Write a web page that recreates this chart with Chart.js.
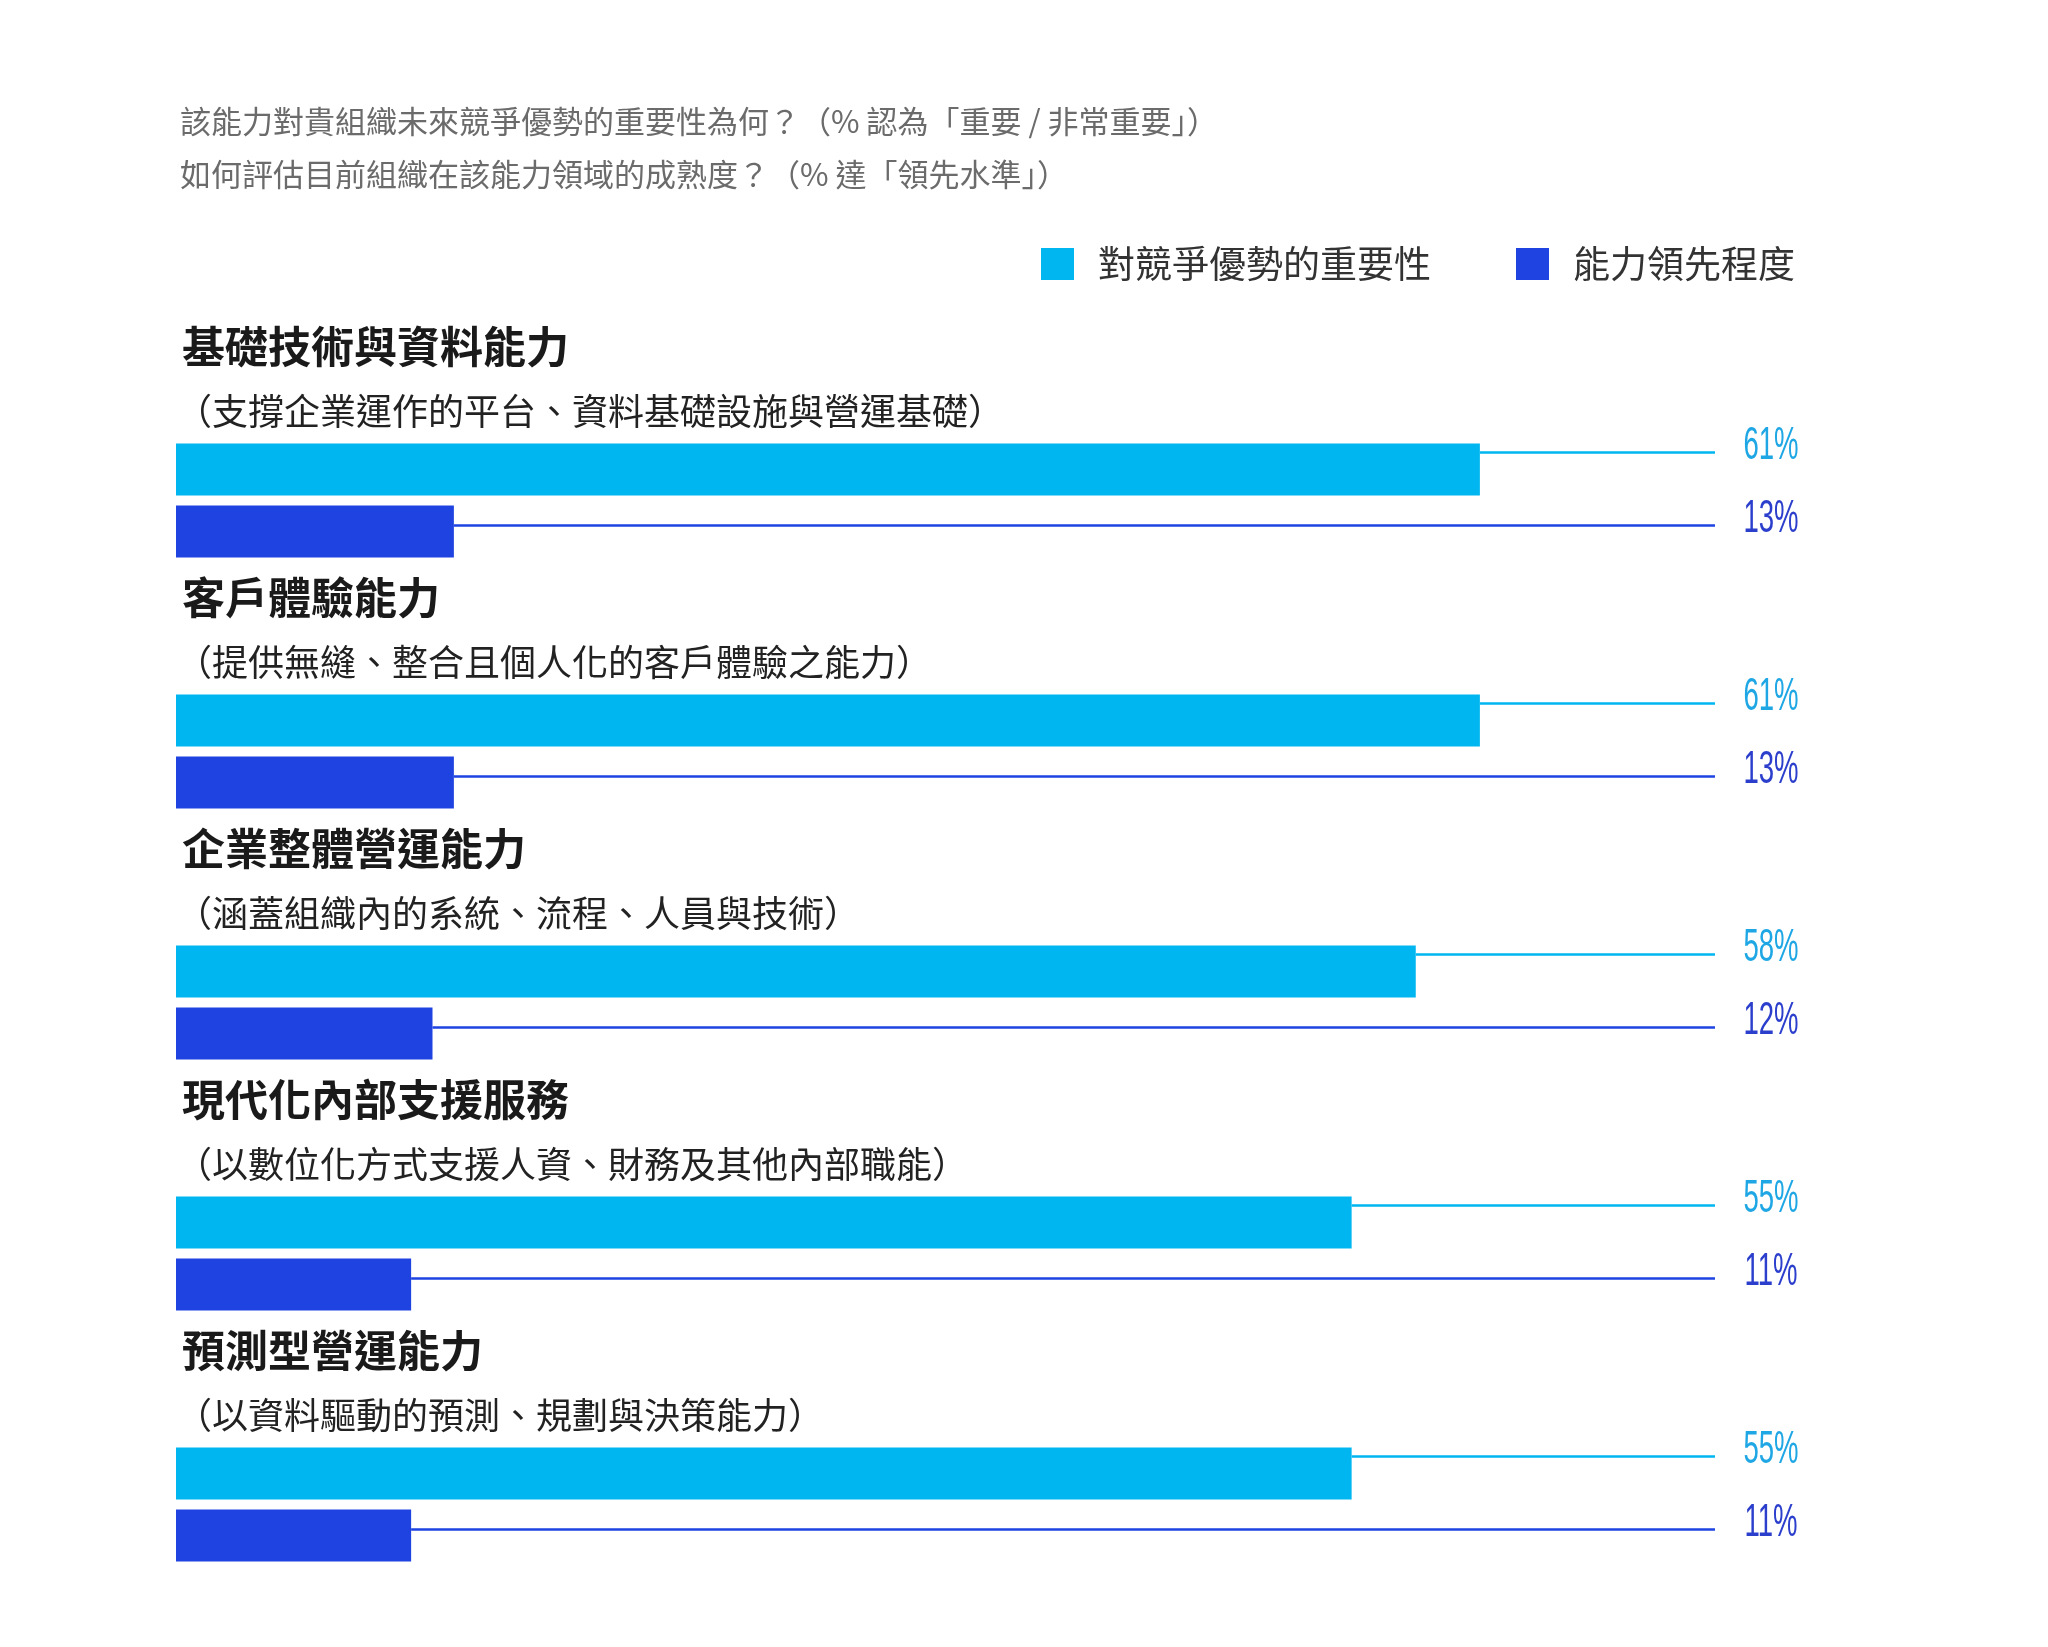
<!DOCTYPE html>
<html>
<head>
<meta charset="utf-8">
<script src="https://cdn.jsdelivr.net/npm/chart.js@4.4.0/dist/chart.umd.min.js"></script>
<style>
  body { margin: 0; background: #fff; }
  canvas { display: block; }
</style>
</head>
<body>
<canvas id="chart" width="2048" height="1647"></canvas>
<script>
// Data
const categories = ['基礎技術與資料能力', '客戶體驗能力', '企業整體營運能力', '現代化內部支援服務', '預測型營運能力'];
const subtitles = [
    '（支撐企業運作的平台、資料基礎設施與營運基礎）',
    '（提供無縫、整合且個人化的客戶體驗之能力）',
    '（涵蓋組織內的系統、流程、人員與技術）',
    '（以數位化方式支援人資、財務及其他內部職能）',
    '（以資料驅動的預測、規劃與決策能力）'
];
const importance = [61, 61, 58, 55, 55];
const leadership = [13, 13, 12, 11, 11];
const seriesNames = ['對競爭優勢的重要性', '能力領先程度'];
const headerLines = [
    '該能力對貴組織未來競爭優勢的重要性為何？（% 認為「重要 / 非常重要」）',
    '如何評估目前組織在該能力領域的成熟度？（% 達「領先水準」）'
];

const CYAN = '#00b6f0';
const BLUE = '#1e43e0';
const CJK = '"Noto Sans CJK TC", "Noto Sans", sans-serif';

// Draws header, legend, group titles, leader lines and value labels
const decorations = {
    id: 'decorations',
    afterDatasetsDraw(chart) {
        const ctx = chart.ctx;
        const area = chart.chartArea;
        ctx.save();

        // header
        ctx.fillStyle = '#6b6b6b';
        ctx.font = '31px ' + CJK;
        ctx.textBaseline = 'middle';
        ctx.fillText(headerLines[0], 180, 121);
        ctx.fillText(headerLines[1], 180, 174);

        // legend
        ctx.font = '37px ' + CJK;
        ctx.fillStyle = CYAN;
        ctx.fillRect(1041, 248, 33, 32);
        ctx.fillStyle = '#333';
        ctx.fillText(seriesNames[0], 1098, 264);
        ctx.fillStyle = BLUE;
        ctx.fillRect(1516, 248, 33, 32);
        ctx.fillStyle = '#333';
        ctx.fillText(seriesNames[1], 1573, 264);

        const colors = [CYAN, BLUE];
        const textColors = ['#1ea7e4', '#2b3fcc'];
        const lineOffsets = [9, 20];
        chart.data.datasets.forEach((ds, di) => {
            const meta = chart.getDatasetMeta(di);
            meta.data.forEach((bar, i) => {
                const top = bar.y - bar.height / 2;
                const ly = top + lineOffsets[di];
                ctx.strokeStyle = colors[di];
                ctx.lineWidth = 2.5;
                ctx.beginPath();
                ctx.moveTo(bar.x, ly);
                ctx.lineTo(area.right, ly);
                ctx.stroke();

                // condensed value label
                ctx.save();
                ctx.translate(1771, ly - 6);
                ctx.scale(0.6, 1);
                ctx.fillStyle = textColors[di];
                ctx.font = '46px "Liberation Sans", sans-serif';
                ctx.textAlign = 'center';
                ctx.textBaseline = 'middle';
                ctx.fillText(ds.data[i] + '%', 0, 0);
                ctx.restore();
            });
        });

        // group titles
        const meta0 = chart.getDatasetMeta(0);
        categories.forEach((name, i) => {
            const top = meta0.data[i].y - meta0.data[i].height / 2;
            ctx.fillStyle = '#1a1a1a';
            ctx.font = 'bold 43px ' + CJK;
            ctx.textAlign = 'left';
            ctx.fillText(name, 182, top - 97);
            ctx.fillStyle = '#222';
            ctx.font = '36px ' + CJK;
            ctx.fillText(subtitles[i], 176, top - 32);
        });
        ctx.restore();
    }
};

new Chart(document.getElementById('chart'), {
    type: 'bar',
    data: {
        labels: categories,
        datasets: [
            { label: seriesNames[0], data: importance, backgroundColor: CYAN },
            { label: seriesNames[1], data: leadership, backgroundColor: BLUE }
        ]
    },
    options: {
        indexAxis: 'y',
        responsive: false,
        animation: false,
        devicePixelRatio: 1,
        categoryPercentage: 0.494,
        barPercentage: 0.84,
        layout: { padding: { top: 375, bottom: 17, left: 176, right: 333 } },
        scales: {
            x: { display: false, min: 0, max: 72 },
            y: { display: false }
        },
        plugins: {
            legend: { display: false },
            tooltip: { enabled: false }
        }
    },
    plugins: [decorations]
});
</script>
</body>
</html>
